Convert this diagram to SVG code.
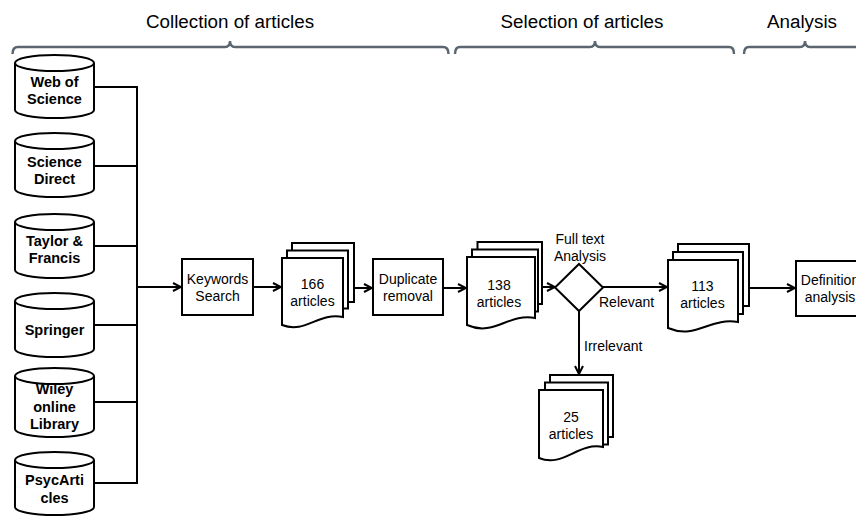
<svg xmlns="http://www.w3.org/2000/svg" width="856" height="516" viewBox="0 0 856 516">
<defs>
<style>
.h{font-family:"Liberation Sans",Arial,sans-serif;font-size:18.8px;fill:#000;text-anchor:middle}
.b{fill:none;stroke:#5b6670;stroke-width:2.5}
.s{fill:#fff;stroke:#000;stroke-width:2}
.t{font-family:"Liberation Sans",Arial,sans-serif;font-size:14px;fill:#000;text-anchor:middle}
.tb{font-family:"Liberation Sans",Arial,sans-serif;font-size:14.5px;font-weight:bold;fill:#000;text-anchor:middle}
.l{font-family:"Liberation Sans",Arial,sans-serif;font-size:14px;fill:#000}
.c{fill:none;stroke:#000;stroke-width:2}
</style>
<marker id="ar" viewBox="0 0 10 10" refX="9" refY="5" markerWidth="10" markerHeight="10" markerUnits="userSpaceOnUse" orient="auto">
<path d="M1,1 L9,5 L1,9" fill="none" stroke="#000" stroke-width="2"/>
</marker>
</defs>
<g id="headings">
<text class="h" x="230" y="28">Collection of articles</text>
<text class="h" x="582" y="28">Selection of articles</text>
<text class="h" x="802" y="28">Analysis</text>
<path class="b" d="M12.5,54 Q12.5,47 18,47 H225 Q230,47 230,41 Q230,47 235,47 H443 Q448.5,47 448.5,54"/>
<path class="b" d="M455,54 Q455,47 460,47 H590 Q595,47 595,41 Q595,47 600,47 H729 Q734,47 734,54"/>
<path class="b" d="M744,54 Q744,47 749,47 H800 Q805,47 805,41 Q805,47 810,47 H870"/>
</g>
<g id="connectors">
<path class="c" d="M94,87 H137 M94,166 H137 M94,246 H137 M94,325 H137 M94,402 H137 M94,483 H137 M137,86 V484"/>
<path class="c" d="M137,287 H181" marker-end="url(#ar)"/>
<path class="c" d="M253,287 H281" marker-end="url(#ar)"/>
<path class="c" d="M354,288 H372" marker-end="url(#ar)"/>
<path class="c" d="M443,288 H466" marker-end="url(#ar)"/>
<path class="c" d="M542,287 H555" marker-end="url(#ar)"/>
<path class="c" d="M603,287 H667" marker-end="url(#ar)"/>
<path class="c" d="M749,288 H795" marker-end="url(#ar)"/>
<path class="c" d="M579,311 V374" marker-end="url(#ar)"/>
<text class="l" x="599" y="307">Relevant</text>
<text class="l" x="584" y="351">Irrelevant</text>
</g>
<g id="db-wos">
<path class="s" d="M15,63 A39.5,8 0 0 1 94,63 V110 A39.5,8 0 0 1 15,110 Z"/>
<path class="c" d="M15,63 A39.5,8 0 0 0 94,63"/>
<text class="tb" x="54.5" y="87">Web of</text>
<text class="tb" x="54.5" y="104">Science</text>
</g>
<g id="db-sd">
<path class="s" d="M15,141 A39.5,8 0 0 1 94,141 V189 A39.5,8 0 0 1 15,189 Z"/>
<path class="c" d="M15,141 A39.5,8 0 0 0 94,141"/>
<text class="tb" x="54.5" y="167">Science</text>
<text class="tb" x="54.5" y="184">Direct</text>
</g>
<g id="db-tf">
<path class="s" d="M15,222 A39.5,8 0 0 1 94,222 V270 A39.5,8 0 0 1 15,270 Z"/>
<path class="c" d="M15,222 A39.5,8 0 0 0 94,222"/>
<text class="tb" x="54.5" y="246">Taylor &amp;</text>
<text class="tb" x="54.5" y="263">Francis</text>
</g>
<g id="db-springer">
<path class="s" d="M15,301 A39.5,8 0 0 1 94,301 V349 A39.5,8 0 0 1 15,349 Z"/>
<path class="c" d="M15,301 A39.5,8 0 0 0 94,301"/>
<text class="tb" x="54.5" y="335">Springer</text>
</g>
<g id="db-wiley">
<path class="s" d="M15,376 A39.5,8 0 0 1 94,376 V429 A39.5,8 0 0 1 15,429 Z"/>
<text class="tb" x="54.5" y="394">Wiley</text>
<path class="c" d="M15,376 A39.5,8 0 0 0 94,376"/>
<text class="tb" x="54.5" y="412">online</text>
<text class="tb" x="54.5" y="429">Library</text>
</g>
<g id="db-psyc">
<path class="s" d="M15,460 A39.5,8 0 0 1 94,460 V507 A39.5,8 0 0 1 15,507 Z"/>
<path class="c" d="M15,460 A39.5,8 0 0 0 94,460"/>
<text class="tb" x="54.5" y="485">PsycArti</text>
<text class="tb" x="54.5" y="503">cles</text>
</g>
<g id="keywords">
<rect class="s" x="182" y="259" width="71" height="56"/>
<text class="t" x="217.5" y="284">Keywords</text>
<text class="t" x="217.5" y="301">Search</text>
</g>
<g id="docs-166">
<rect class="s" x="292" y="243" width="62" height="59"/>
<rect class="s" x="287" y="250.5" width="61" height="58"/>
<path class="s" d="M282,258 H343 V317 C318,312 306,334 282,325 Z"/>
<text class="t" x="312.5" y="289">166</text>
<text class="t" x="312.5" y="306">articles</text>
</g>
<g id="duplicate">
<rect class="s" x="373" y="259" width="70" height="56"/>
<text class="t" x="408" y="284">Duplicate</text>
<text class="t" x="408" y="301">removal</text>
</g>
<g id="docs-138">
<rect class="s" x="477.5" y="242" width="64.5" height="62"/>
<rect class="s" x="472" y="249.5" width="66" height="62"/>
<path class="s" d="M467,257 H535 V318 C508,313 494,337 467,325 Z"/>
<text class="t" x="499" y="290">138</text>
<text class="t" x="499" y="307">articles</text>
</g>
<g id="fulltext">
<path class="s" d="M579,264 L603,287.5 L579,311 L555,287.5 Z"/>
<text class="t" x="580" y="244">Full text</text>
<text class="t" x="580" y="261">Analysis</text>
</g>
<g id="docs-113">
<rect class="s" x="678" y="244" width="71" height="62"/>
<rect class="s" x="673" y="252" width="70" height="62"/>
<path class="s" d="M668,260 H738 V322 C710,317 696,340 668,328 Z"/>
<text class="t" x="702.5" y="291">113</text>
<text class="t" x="702.5" y="308">articles</text>
</g>
<g id="definition">
<rect class="s" x="796" y="261" width="68" height="55"/>
<text class="t" x="830" y="285">Definition</text>
<text class="t" x="830" y="302">analysis</text>
</g>
<g id="docs-25">
<rect class="s" x="550" y="375" width="63" height="62"/>
<rect class="s" x="545" y="382.5" width="63" height="62"/>
<path class="s" d="M539,390 H603 V447 C578,442 563,468 539,458 Z"/>
<text class="t" x="571" y="422">25</text>
<text class="t" x="571" y="439">articles</text>
</g>
</svg>
